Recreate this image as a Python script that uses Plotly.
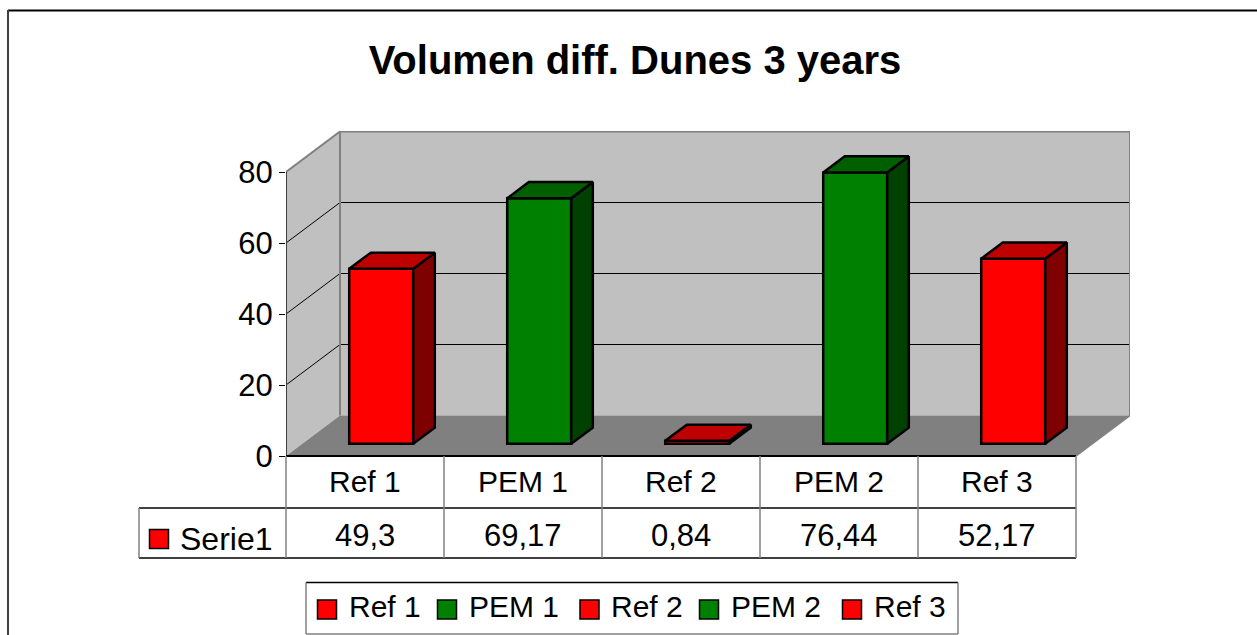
import plotly.graph_objects as go

# ---- chart data ----
categories = ["Ref 1", "PEM 1", "Ref 2", "PEM 2", "Ref 3"]
values = [49.3, 69.17, 0.84, 76.44, 52.17]
front_colors = ["#ff0000", "#008000", "#ff0000", "#008000", "#ff0000"]
top_colors = ["#bf0000", "#006000", "#bf0000", "#006000", "#bf0000"]
side_colors = ["#7f0000", "#004000", "#7f0000", "#004000", "#7f0000"]
y_ticks = [0, 20, 40, 60, 80]
series_name = "Serie1"
title_text = "Volumen diff. Dunes 3 years"

# ---- layout geometry (pixels) ----
W, H = 1257, 635
PL, PR, PT, PB = 286, 1130, 131, 456      # plot area on the page
CAT_PX = 158.0                            # px per category
VAL_PX = 284 / 80                         # px per value unit
DEPTH_X = 54 / CAT_PX                     # wall depth in axis units
DEPTH_Y = 40.5 / VAL_PX
BAR_W = 0.405
D0, D1 = 0.3, 0.7                         # bars' position in the depth
FONT = "Liberation Sans"
BAR_EDGE = 2.5


def px(x):
    return (x - PL) / (PR - PL)


def py(y):
    return (PB - y) / (PB - PT)


def poly(points):
    return "M " + " L ".join(f"{a},{b}" for a, b in points) + " Z"


shapes = []


def data_shape(points, fill, line=None, width=1):
    shapes.append(dict(type="path", path=poly(points), xref="x", yref="y", layer="below",
                       fillcolor=fill, line=dict(color=line or fill, width=width if line else 0)))


def data_line(x0, y0, x1, y1, color, width):
    shapes.append(dict(type="line", xref="x", yref="y", x0=x0, y0=y0, x1=x1, y1=y1,
                       layer="below", line=dict(color=color, width=width)))


def page_line(x0, y0, x1, y1, color, width=1):
    shapes.append(dict(type="line", xref="paper", yref="paper", x0=px(x0), y0=py(y0),
                       x1=px(x1), y1=py(y1), layer="above", line=dict(color=color, width=width)))


n = len(categories)
top = y_ticks[-1]

# walls and floor
data_shape([(0, 0), (DEPTH_X, DEPTH_Y), (DEPTH_X, top + DEPTH_Y), (0, top)], "#c0c0c0")
data_shape([(DEPTH_X, DEPTH_Y), (n + DEPTH_X, DEPTH_Y), (n + DEPTH_X, top + DEPTH_Y), (DEPTH_X, top + DEPTH_Y)],
           "#c0c0c0")
data_shape([(0, 0), (n, 0), (n + DEPTH_X, DEPTH_Y), (DEPTH_X, DEPTH_Y)], "#808080")

# gridlines
for t in y_ticks[1:-1]:
    data_line(0, t, DEPTH_X, t + DEPTH_Y, "#000000", 1)
    data_line(DEPTH_X, t + DEPTH_Y, n + DEPTH_X, t + DEPTH_Y, "#000000", 1)

# wall outlines
grey = "#808080"
data_line(0, top, DEPTH_X, top + DEPTH_Y, grey, 2)
data_line(DEPTH_X, DEPTH_Y, DEPTH_X, top + DEPTH_Y, grey, 2)
data_line(DEPTH_X, top + DEPTH_Y, n + DEPTH_X, top + DEPTH_Y, grey, 2)
data_line(n + DEPTH_X, DEPTH_Y, n + DEPTH_X, top + DEPTH_Y, grey, 2)
data_line(n, 0, n + DEPTH_X, DEPTH_Y, grey, 1.5)
data_line(0, 0, 0, top, "#404040", 2)

fig = go.Figure()

# bar front faces
offx = D0 * DEPTH_X
offy = D0 * DEPTH_Y
centers = [i + 0.5 + offx for i in range(n)]
fig.add_trace(go.Bar(x=centers, y=values, base=offy, width=BAR_W, name=series_name,
                     marker=dict(color=front_colors, line=dict(color="#000000", width=BAR_EDGE)),
                     showlegend=False, hoverinfo="skip"))

# bar side and top faces
dxb = (D1 - D0) * DEPTH_X
dyb = (D1 - D0) * DEPTH_Y
for c, v, ct, cs in zip(centers, values, top_colors, side_colors):
    x0, x1 = c - BAR_W / 2, c + BAR_W / 2
    y0, y1 = offy, offy + v
    fig.add_trace(go.Scatter(x=[x1, x1 + dxb, x1 + dxb, x1, x1], y=[y0, y0 + dyb, y1 + dyb, y1, y0],
                             mode="lines", fill="toself", fillcolor=cs,
                             line=dict(color="#000000", width=BAR_EDGE), showlegend=False, hoverinfo="skip"))
    fig.add_trace(go.Scatter(x=[x0, x1, x1 + dxb, x0 + dxb, x0], y=[y1, y1, y1 + dyb, y1 + dyb, y1],
                             mode="lines", fill="toself", fillcolor=ct,
                             line=dict(color="#000000", width=BAR_EDGE), showlegend=False, hoverinfo="skip"))

annotations = []


def text(x, y, s, anchor="center", size=30):
    annotations.append(dict(xref="paper", yref="paper", x=px(x), y=py(y), text=s, showarrow=False,
                            xanchor=anchor, yanchor="middle", align=anchor, xshift=0, yshift=0,
                            font=dict(family=FONT, size=size, color="#000000")))


def swatch(x, y, color, size=19):
    shapes.append(dict(type="rect", xref="paper", yref="paper", x0=px(x), x1=px(x + size),
                       y0=py(y), y1=py(y + size), layer="above", fillcolor=color,
                       line=dict(color="#000000", width=1.5)))


# data table
T_LEFT = 139
T_Y0, T_Y1, T_Y2 = 456, 508, 558
page_line(PL, T_Y0, PL + n * CAT_PX, T_Y0, "#000000", 2)
page_line(T_LEFT, T_Y1, PL + n * CAT_PX, T_Y1, "#000000", 1.5)
page_line(T_LEFT, T_Y2, PL + n * CAT_PX, T_Y2, "#000000", 1.5)
page_line(T_LEFT, T_Y1, T_LEFT, T_Y2, grey, 1.5)
for i in range(n + 1):
    page_line(PL + i * CAT_PX, T_Y0, PL + i * CAT_PX, T_Y2, grey, 1.5)
for i, (cat, v) in enumerate(zip(categories, values)):
    cx = PL + (i + 0.5) * CAT_PX
    text(cx, 481, cat)
    text(cx, 535, str(v).replace(".", ","), size=31)
swatch(149.5, 529.5, front_colors[0])
text(178, 539, series_name, anchor="left", size=32)

# legend box
page_line(306, 582.5, 958, 582.5, "#000000", 1.5)
page_line(306, 634, 958, 634, grey, 1.5)
page_line(306, 582.5, 306, 634, grey, 1.5)
page_line(958, 582.5, 958, 634, grey, 1.5)
leg_swatch_x = [317.5, 437.5, 580, 699.5, 842.5]
leg_text_x = [347, 467, 609, 729, 872]
for sx, tx, cat, col in zip(leg_swatch_x, leg_text_x, categories, front_colors):
    swatch(sx, 600, col)
    text(tx, 606, cat, anchor="left")

# outer frame
page_line(8, 10.5, W, 10.5, "#000000", 2)
page_line(8, 10, 8, H, "#404040", 2)

fig.update_layout(
    width=W, height=H, autosize=False,
    margin=dict(l=PL, r=W - PR, t=PT, b=H - PB, pad=0),
    paper_bgcolor="#ffffff", plot_bgcolor="#ffffff",
    font=dict(family=FONT, color="#000000"),
    showlegend=False,
    title=dict(text="<b>" + title_text + "</b>", x=635 / W, xanchor="center", xref="container",
               y=1 - 60 / H, yanchor="middle", font=dict(family=FONT, size=40, color="#000000")),
    xaxis=dict(range=[0, (PR - PL) / CAT_PX], visible=False, fixedrange=True),
    yaxis=dict(range=[0, (PB - PT) / VAL_PX], tickvals=y_ticks, ticktext=[str(t) for t in y_ticks],
               ticks="outside", ticklen=6, tickwidth=1, tickcolor="#000000", showgrid=False, zeroline=False,
               showline=False, tickfont=dict(family=FONT, size=31, color="#000000"), fixedrange=True),
    shapes=shapes, annotations=annotations,
)

fig.write_html("out.html", config={"displayModeBar": False},
               post_script="document.body.style.margin='0';document.body.style.overflow='hidden';")
